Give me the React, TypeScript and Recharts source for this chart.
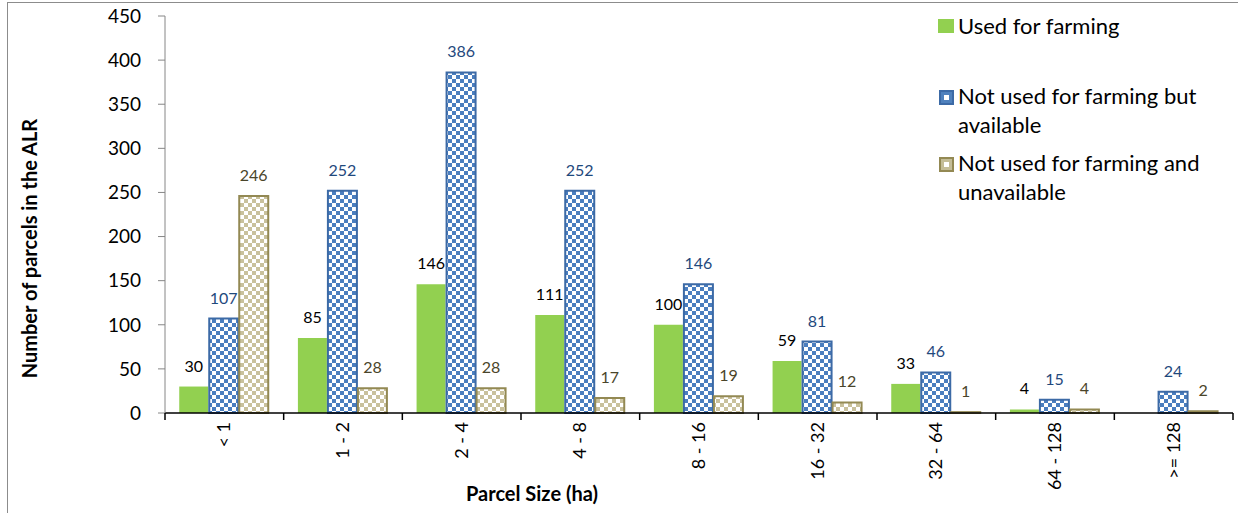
import React from "react";
import { BarChart, Bar, XAxis, YAxis, LabelList, Legend, Label } from "recharts";

const categories = ["< 1", "1 - 2", "2 - 4", "4 - 8", "8 - 16", "16 - 32", "32 - 64", "64 - 128", ">= 128"];
const usedForFarming: (number | null)[] = [30, 85, 146, 111, 100, 59, 33, 4, null];
const notUsedAvailable = [107, 252, 386, 252, 146, 81, 46, 15, 24];
const notUsedUnavailable = [246, 28, 28, 17, 19, 12, 1, 4, 2];
const yTicks = [0, 50, 100, 150, 200, 250, 300, 350, 400, 450];

const seriesNames = {
  used: "Used for farming",
  avail: "Not used for farming but available",
  unavail: "Not used for farming and unavailable",
};
const legendLines: Record<string, string[]> = {
  used: ["Used for farming"],
  avail: ["Not used for farming but", "available"],
  unavail: ["Not used for farming and", "unavailable"],
};

const data = categories.map((c, i) => ({
  cat: c,
  used: usedForFarming[i],
  avail: notUsedAvailable[i],
  unavail: notUsedUnavailable[i],
}));

const FONT = "Lato, 'Open Sans', sans-serif";
const PLOT_LEFT = 157;
const PLOT_RIGHT = 1225;
const BAND = (PLOT_RIGHT - PLOT_LEFT) / categories.length;

const XTick = (props: any) => {
  const { x, y, payload, index } = props;
  const left = x - BAND / 2;
  const right = x + BAND / 2;
  return (
    <g>
      <line x1={left} x2={left} y1={y - 8} y2={y - 1} stroke="#000" strokeWidth={1.5} />
      {index === categories.length - 1 && (
        <line x1={right} x2={right} y1={y - 8} y2={y - 1} stroke="#000" strokeWidth={1.5} />
      )}
      <text
        x={0}
        y={0}
        transform={`translate(${x + 6},${y + 1}) rotate(-90)`}
        textAnchor="end"
        fontSize={18}
        fontFamily={FONT}
        fill="#000"
      >
        {payload.value}
      </text>
    </g>
  );
};

const LegendContent = () => {
  const items = [
    { key: "used", mt: 0 },
    { key: "avail", mt: 41 },
    { key: "unavail", mt: 9 },
  ];
  return (
    <div style={{ fontFamily: FONT, fontSize: 22, color: "#000", lineHeight: "29px" }}>
      {items.map((it) => (
        <div key={it.key} style={{ display: "flex", alignItems: "flex-start", marginTop: it.mt }}>
          <div style={{ width: 20, height: 29, position: "relative", flex: "none" }}>
            {it.key === "used" ? (
              <div style={{ position: "absolute", left: 0, top: 8, width: 16, height: 14, background: "#92d050" }} />
            ) : (
              <div
                style={{
                  position: "absolute",
                  left: 1,
                  top: 9,
                  width: 11,
                  height: 11,
                  border: `2px solid ${it.key === "avail" ? "#3c6aa6" : "#938953"}`,
                  background: it.key === "avail" ? "#4f81bd" : "#c4bd97",
                }}
              >
                <div style={{ position: "absolute", left: 3, top: 3, width: 5, height: 5, background: "#fff" }} />
              </div>
            )}
          </div>
          <div>
            {legendLines[it.key].map((l) => (
              <div key={l} style={{ whiteSpace: "nowrap" }}>{l}</div>
            ))}
          </div>
        </div>
      ))}
    </div>
  );
};

export default function App() {
  return (
    <div
      style={{
        position: "absolute",
        left: 7,
        top: 2,
        width: 1240,
        height: 520,
        border: "1px solid #8c8c8c",
        background: "#fff",
      }}
    >
      <BarChart
        width={1240}
        height={520}
        data={data}
        margin={{ top: 13, right: 15, left: 0, bottom: 0 }}
        barCategoryGap="12%"
        barGap={1}
      >
        <defs>
          <pattern id="blueCheck" width={8} height={8} patternUnits="userSpaceOnUse">
            <rect width={8} height={8} fill="#ffffff" />
            <rect x={0} y={0} width={4} height={4} fill="#4a7ebf" />
            <rect x={4} y={4} width={4} height={4} fill="#4a7ebf" />
          </pattern>
          <pattern id="tanCheck" width={8} height={8} patternUnits="userSpaceOnUse">
            <rect width={8} height={8} fill="#ffffff" />
            <rect x={0} y={0} width={4} height={4} fill="#c9c19c" />
            <rect x={4} y={4} width={4} height={4} fill="#c9c19c" />
          </pattern>
        </defs>
        <XAxis
          dataKey="cat"
          height={110}
          interval={0}
          tickLine={false}
          axisLine={{ stroke: "#000", strokeWidth: 1.5 }}
          tick={<XTick />}
        >
          <Label
            value="Parcel Size (ha)"
            position="insideBottom"
            offset={22}
            dx={-167}
            style={{ fontFamily: FONT, fontSize: 20, fontWeight: 700, fill: "#000" }}
          />
        </XAxis>
        <YAxis
          width={PLOT_LEFT}
          domain={[0, 450]}
          ticks={yTicks}
          interval={0}
          tickSize={7}
          tickMargin={17}
          axisLine={{ stroke: "#868686", strokeWidth: 1 }}
          tickLine={{ stroke: "#868686", strokeWidth: 1 }}
          tick={{ fontFamily: FONT, fontSize: 19, fill: "#000" }}
        >
          <Label
            value="Number of parcels in the ALR"
            angle={-90}
            position="insideLeft"
            offset={22}
            dy={34}
            style={{ fontFamily: FONT, fontSize: 20, fontWeight: 700, fill: "#000", textAnchor: "middle" }}
          />
        </YAxis>
        <Legend
          layout="vertical"
          align="center"
          verticalAlign="middle"
          wrapperStyle={{ left: 930, top: 8, width: 300 }}
          content={<LegendContent />}
        />
        <Bar dataKey="used" name={seriesNames.used} fill="#92d050" isAnimationActive={false}>
          <LabelList dataKey="used" position="top" offset={15} style={{ fontFamily: FONT, fontSize: 16, fill: "#000" }} />
        </Bar>
        <Bar
          dataKey="avail"
          name={seriesNames.avail}
          fill="url(#blueCheck)"
          stroke="#3c6aa6"
          strokeWidth={2}
          isAnimationActive={false}
        >
          <LabelList dataKey="avail" position="top" offset={15} style={{ fontFamily: FONT, fontSize: 16, fill: "#1f497d" }} />
        </Bar>
        <Bar
          dataKey="unavail"
          name={seriesNames.unavail}
          fill="url(#tanCheck)"
          stroke="#938953"
          strokeWidth={2}
          isAnimationActive={false}
        >
          <LabelList dataKey="unavail" position="top" offset={15} style={{ fontFamily: FONT, fontSize: 16, fill: "#4a452a" }} />
        </Bar>
      </BarChart>
    </div>
  );
}
